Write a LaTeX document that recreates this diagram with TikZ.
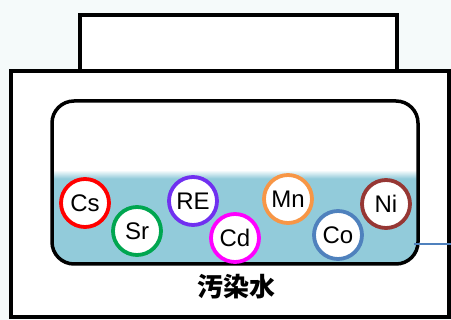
\documentclass[tikz,border=0pt]{standalone}
\usepackage{fontspec}
\setmainfont{Noto Sans CJK JP}
\newfontfamily\ionfont{Liberation Sans}
\usepackage{tikz}
\usepackage{xcolor}
\usetikzlibrary{positioning, calc}

\definecolor{paper}{RGB}{245,250,250}
\definecolor{water}{RGB}{146,203,218}
\definecolor{csred}{RGB}{255,0,0}
\definecolor{srgreen}{RGB}{0,166,80}
\definecolor{repurple}{RGB}{112,48,240}
\definecolor{cdpink}{RGB}{255,0,255}
\definecolor{mnorange}{RGB}{247,150,70}
\definecolor{coblue}{RGB}{79,129,189}
\definecolor{nibrown}{RGB}{150,55,52}

\begin{document}
\begin{tikzpicture}[x=1pt, y=-1pt,
  wall/.style={draw=black, line width=3.5pt, fill=white},
  ion/.style={circle, draw=#1, line width=3.8pt, fill=white, minimum size=48pt,
    inner sep=0pt, font=\ionfont\fontsize{24}{24}\selectfont}]
\useasboundingbox (0,0) rectangle (451,320);
\fill[paper] (0,0) rectangle (451,320);

% Vessel
\draw[wall] (80,15) rectangle (397,71);
\draw[wall] (11,71) rectangle (449,317);

% Tank with water
\fill[white, rounded corners=22pt] (52,101) rectangle (418,264);
\begin{scope}
\clip[rounded corners=22pt] (52,101) rectangle (418,264);
\fill[water] (40,178) rectangle (430,270);
\shade[top color=white, bottom color=water] (40,170) rectangle (430,178.5);
\end{scope}
\draw[line width=3.5pt, rounded corners=22pt] (52,101) rectangle (418,264);

% Leak line
\coordinate (leak) at (414,244);
\coordinate (edge) at (451,244);
\draw[coblue, line width=1.2pt] (leak) -- (edge);

% Ions
\node[ion=csred] (cs) at (85,203) {Cs};
\node[ion=srgreen] (sr) at (137,231) {Sr};
\node[ion=repurple] (re) at (193,201) {RE};
\node[ion=cdpink] (cd) at (235,238) {Cd};
\node[ion=mnorange] (mn) at (288,199) {Mn};
\node[ion=coblue] (co) at (338,235) {Co};
\node[ion=nibrown] (ni) at (386,204) {Ni};

\node[font=\fontsize{26}{26}\selectfont\bfseries] (label) at (236,287) {汚染水};
\end{tikzpicture}
\end{document}
